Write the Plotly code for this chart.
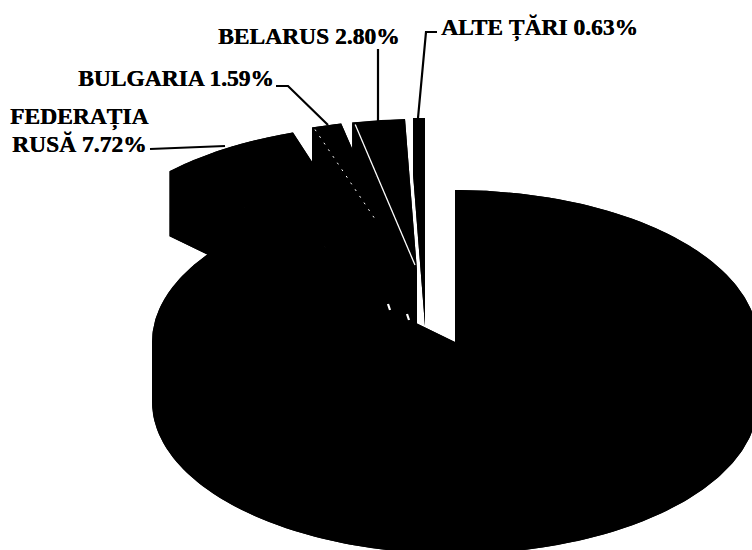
import numpy as np
import plotly.graph_objects as go

categories = ["Rest", "FEDERAȚIA RUSĂ", "BULGARIA", "BELARUS", "ALTE ȚĂRI"]
values = [87.26, 7.72, 1.59, 2.80, 0.63]

# 3D-pie projection (styles / layout only)
CX, CY, A, B = 455, 342, 303, 152
pull_x = [0, -68, -49, -38, -30]
pull_y = [0, -65, -70, -71, -72]
depth = [60, 65, 56, 56, 56]
FONT = "Liberation Serif"
FS = 23.5

fig = go.Figure()


def poly(xs, ys, color="black"):
    fig.add_trace(go.Scatter(x=xs, y=ys, mode="lines", fill="toself", fillcolor=color,
                             line=dict(color=color, width=0), hoverinfo="skip", showlegend=False))


def wline(xs, ys, color="white", width=1.2, dash=None):
    fig.add_trace(go.Scatter(x=xs, y=ys, mode="lines", hoverinfo="skip", showlegend=False,
                             line=dict(color=color, width=width, dash=dash)))


def project(theta, dx, dy):
    return CX + dx + A * np.sin(theta), CY + dy - B * np.cos(theta)


edges = np.cumsum([0] + values) / sum(values) * 2 * np.pi
geo = []
for i in range(len(values)):
    t = np.linspace(edges[i], edges[i + 1], 360)
    dx, dy, d = pull_x[i], pull_y[i], depth[i]
    ax, ay = CX + dx, CY + dy
    px, py = project(t, dx, dy)
    # bottom sector
    poly([ax, *px, ax], [ay + d, *(py + d), ay + d])
    # outer wall, split where the arc turns so the band never crosses itself
    cuts = [edges[i]] + [c for c in (np.pi / 2, 1.5 * np.pi) if edges[i] < c < edges[i + 1]] + [edges[i + 1]]
    for c0, c1 in zip(cuts[:-1], cuts[1:]):
        s = np.linspace(c0, c1, 200)
        sx, sy = project(s, dx, dy)
        poly([*sx, *sx[::-1]], [*sy, *(sy[::-1] + d)])
    # radial walls
    poly([ax, px[0], px[0], ax], [ay, py[0], py[0] + d, ay + d])
    poly([ax, px[-1], px[-1], ax], [ay, py[-1], py[-1] + d, ay + d])
    # top sector
    poly([ax, *px, ax], [ay, *py, ay])
    geo.append((ax, ay, px, py, d))

# close the inner gaps between the walls of the three touching slices
bx = [geo[i][0] for i in (1, 2, 3)]
by = [geo[i][1] for i in (1, 2, 3)]
bd = [geo[i][1] + geo[i][4] + 6 for i in (1, 2, 3)]
poly([*bx, *bx[::-1]], [*by, *bd[::-1]])

# white hairlines between the exploded slices
ax, ay, px, py, d = geo[3]
wline([px[0] + 3, ax - 2], [py[0] + 2, ay - 6], width=1.3)
ax, ay, px, py, d = geo[2]
wline([px[0] + 3, ax - 29], [py[0] + 2, ay - 50], width=1, dash="2px,6px")
# small specks where the walls nearly meet
for i, off in ((1, 30), (2, 45)):
    ax, ay, px, py, d = geo[i]
    wline([ax + 1, ax + 3], [ay + off - 3, ay + off + 3], width=2.2)

# leader lines
leaders = [
    ([437, 426, 418], [32, 32, 118]),
    ([378, 378], [49, 122]),
    ([276, 288, 328], [86, 86, 125]),
    ([150, 225], [149, 146]),
]
for xs, ys in leaders:
    wline(xs, ys, color="black", width=2.2)

labels = [
    (440, 28, "left", f"ALTE ȚĂRI {values[4]:.2f}%"),
    (401, 36, "right", f"BELARUS {values[3]:.2f}%"),
    (275, 78, "right", f"BULGARIA {values[2]:.2f}%"),
    (79, 117, "center", "FEDERAȚIA"),
    (79, 144, "center", f"RUSĂ {values[1]:.2f}%"),
]
annotations = [
    dict(x=x, y=y, text=f"<b>{txt}</b>", xanchor=anc, yanchor="middle", showarrow=False,
         xref="x", yref="y", align="center", borderpad=0,
         font=dict(family=FONT, size=FS, color="black", shadow="0.4px 0 0 black"))
    for x, y, anc, txt in labels
]

fig.update_layout(
    width=752, height=550, margin=dict(l=0, r=0, t=0, b=0),
    paper_bgcolor="white", plot_bgcolor="white", showlegend=False,
    xaxis=dict(range=[0, 752], visible=False, fixedrange=True),
    yaxis=dict(range=[550, 0], visible=False, fixedrange=True),
    annotations=annotations,
)
fig.write_html("out.html", config=dict(displayModeBar=False),
               post_script="document.body.style.margin='0';document.body.style.overflow='hidden';")
